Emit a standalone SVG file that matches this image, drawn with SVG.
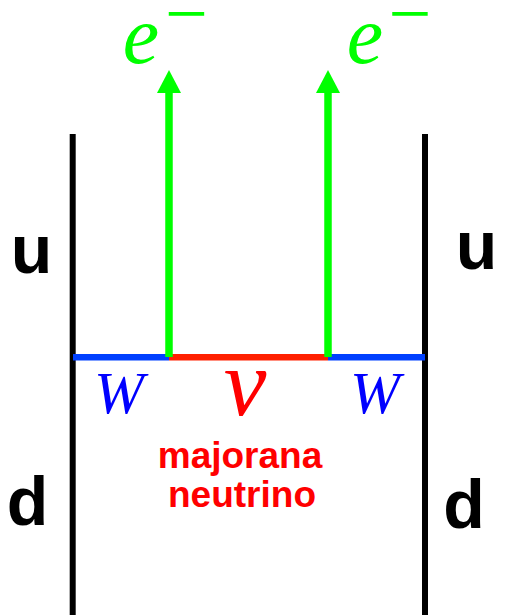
<svg xmlns="http://www.w3.org/2000/svg" width="524" height="615" viewBox="0 0 524 615">
<defs>
<style>
.quark{stroke:#000;stroke-width:6;fill:none}
.w{stroke:#0040ff;stroke-width:6.5;fill:none}
.nu{stroke:#ff2000;stroke-width:6.5;fill:none}
.el{stroke:#00ff00;stroke-width:7.5;fill:none}
.ql{font-family:"Liberation Sans",Arial,sans-serif;font-weight:bold;font-size:68px;fill:#000;text-anchor:middle}
.math{font-family:"Liberation Serif","Times New Roman",serif;font-style:italic;text-anchor:middle}
.minus{font-family:"Liberation Serif","Times New Roman",serif;font-size:76px;fill:#00ff00;text-anchor:middle}
.lbl{font-family:"Liberation Sans",Arial,sans-serif;font-weight:bold;font-size:37px;fill:#ff0000;text-anchor:middle}
</style>
</defs>
<g id="connectors">
<line class="quark" x1="72.7" y1="134" x2="72.7" y2="615"/>
<line class="quark" x1="425" y1="134" x2="425" y2="615"/>
<line class="w" x1="73" y1="357.3" x2="169" y2="357.3"/>
<line class="w" x1="328" y1="357.3" x2="425" y2="357.3"/>
<line class="nu" x1="169" y1="357.3" x2="328" y2="357.3"/>
<line class="el" x1="169" y1="357" x2="169" y2="92"/>
<path d="M157,93 L169,70 L181,93 Z" fill="#00ff00"/>
<line class="el" x1="328" y1="357" x2="328" y2="92"/>
<path d="M316,93 L328,70 L340,93 Z" fill="#00ff00"/>
</g>
<g id="u-left"><text class="ql" x="31.5" y="273">u</text></g>
<g id="d-left"><text class="ql" x="27.5" y="525">d</text></g>
<g id="u-right"><text class="ql" x="476.5" y="269">u</text></g>
<g id="d-right"><text class="ql" x="464" y="528">d</text></g>
<g id="electron-left"><text class="math" x="141" y="63" font-size="82" fill="#00ff00">e</text><text class="minus" x="186.5" y="39">−</text></g>
<g id="electron-right"><text class="math" x="365" y="63" font-size="82" fill="#00ff00">e</text><text class="minus" x="410" y="39">−</text></g>
<g id="w-left"><text class="math" x="119" y="413" font-size="60" fill="#0000ff">W</text></g>
<g id="w-right"><text class="math" x="375" y="413" font-size="60" fill="#0000ff">W</text></g>
<g id="nu"><text class="math" x="245" y="415" font-size="96" fill="#ff0000">ν</text></g>
<g id="label"><text class="lbl" x="240" y="468">majorana</text><text class="lbl" x="242" y="507">neutrino</text></g>
</svg>
